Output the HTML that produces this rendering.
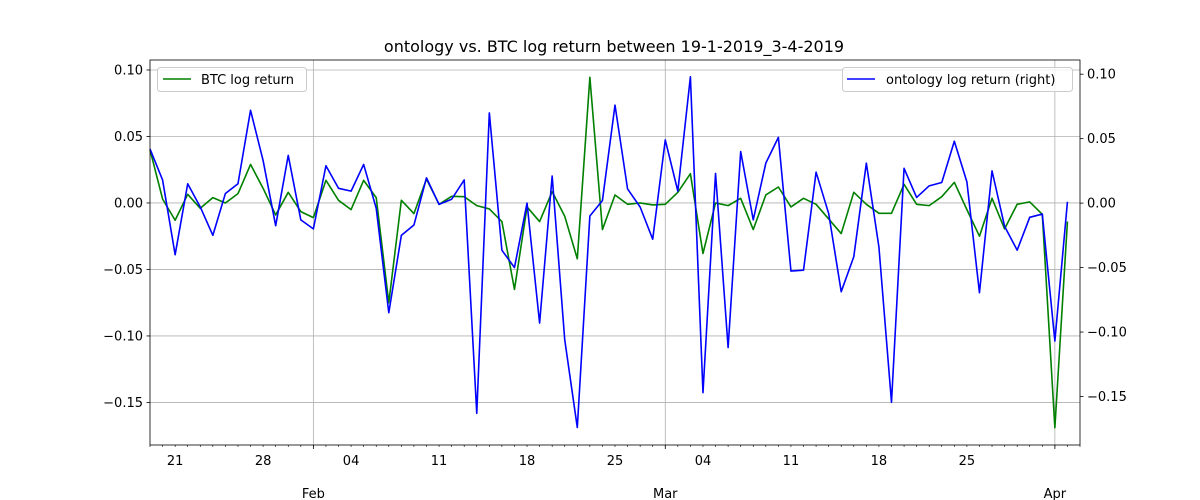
<!DOCTYPE html>
<html><head><meta charset="utf-8"><style>
body{margin:0;background:#fff;}
svg{display:block;font-family:"DejaVu Sans","Liberation Sans",sans-serif;}
</style></head><body>
<svg id="chart" width="1200" height="500" xmlns="http://www.w3.org/2000/svg">
<text x="614" y="52" font-size="16" text-anchor="middle">ontology vs. BTC log return between 19-1-2019_3-4-2019</text>
<g id="grid"></g><g id="series"></g><g id="axes"></g>
</svg>
<script>
const btcValues = [0.040,0.003,-0.013,0.0065,-0.004,0.004,0.000,0.007,0.029,0.011,-0.009,0.008,-0.0065,-0.011,0.017,0.002,-0.005,0.017,0.004,-0.075,0.002,-0.008,0.018,-0.001,0.005,0.0047,-0.002,-0.0045,-0.014,-0.065,-0.003,-0.014,0.0085,-0.010,-0.042,0.0945,-0.020,0.006,-0.001,0.000,-0.0015,-0.001,0.008,0.022,-0.038,0.000,-0.002,0.0035,-0.020,0.006,0.012,-0.003,0.0035,-0.001,-0.012,-0.023,0.008,-0.001,-0.0078,-0.0078,0.014,-0.001,-0.002,0.0047,0.0155,-0.005,-0.025,0.0035,-0.0195,-0.001,0.0008,-0.0085,-0.169,-0.014];
const ontValues = [0.042,0.018,-0.040,0.015,-0.003,-0.025,0.0075,0.015,0.072,0.033,-0.0175,0.037,-0.013,-0.020,0.029,0.0115,0.0093,0.030,-0.004,-0.085,-0.025,-0.017,0.0196,-0.001,0.003,0.018,-0.163,0.070,-0.0365,-0.050,0.000,-0.093,0.021,-0.106,-0.174,-0.010,0.002,0.076,0.011,-0.003,-0.028,0.049,0.0093,0.098,-0.147,0.023,-0.112,0.040,-0.013,0.031,0.051,-0.0527,-0.052,0.024,-0.008,-0.0687,-0.0416,0.031,-0.034,-0.1545,0.027,0.0044,0.0134,0.016,0.048,0.0165,-0.0695,0.025,-0.018,-0.0365,-0.011,-0.0085,-0.107,0.001];
const leftTicks = [0.10,0.05,0.00,-0.05,-0.10,-0.15];
const rightTicks = [0.10,0.05,0.00,-0.05,-0.10,-0.15];
const dayLabels = [[2,"21"],[9,"28"],[16,"04"],[23,"11"],[30,"18"],[37,"25"],[44,"04"],[51,"11"],[58,"18"],[65,"25"]];
const monthLabels = [[13,"Feb"],[41,"Mar"],[72,"Apr"]];
const NS="http://www.w3.org/2000/svg";
const X0=150,X1=1080,Y0=60,Y1=445,ndays=74;
const xs=i=>X0+(X1-X0)*i/ndays;
const yL=v=>Y0+(Y1-Y0)*(0.1075-v)/(0.1075+0.182);
const yR=v=>Y0+(Y1-Y0)*(0.111-v)/(0.111+0.1876);
function mk(tag,attrs,parent,text){const e=document.createElementNS(NS,tag);for(const k in attrs)e.setAttribute(k,attrs[k]);if(text!==undefined)e.textContent=text;parent.appendChild(e);return e;}
const grid=document.getElementById('grid'),series=document.getElementById('series'),axes=document.getElementById('axes');
leftTicks.forEach(v=>{const y=yL(v);
 const g=mk('line',{x1:X0,x2:X1,y1:y,y2:y,stroke:'#b0b0b0','stroke-width':0.8},grid);
 
 
 mk('line',{x1:X0-3.5,x2:X0,y1:y,y2:y,stroke:'#000','stroke-width':0.8},axes);
 const t=mk('text',{x:X0-7,y:y+4.5,'font-size':13,'text-anchor':'end'},axes,v.toFixed(2).replace('-','\u2212'));
 
 });
rightTicks.forEach(v=>{const y=yR(v);
 mk('line',{x1:X1,x2:X1+3.5,y1:y,y2:y,stroke:'#000','stroke-width':0.8},axes);
 const t=mk('text',{x:X1+7,y:y+4.5,'font-size':13},axes,v.toFixed(2).replace('-','\u2212'));
 
 });
for(let i=0;i<=ndays;i++){mk('line',{x1:xs(i),x2:xs(i),y1:Y1,y2:Y1+2,stroke:'#000','stroke-width':0.6},axes);}
monthLabels.forEach(([d,l])=>{const x=xs(d);
 const g=mk('line',{x1:x,x2:x,y1:Y0,y2:Y1,stroke:'#b0b0b0','stroke-width':0.8},grid);
 
 
 mk('line',{x1:x,x2:x,y1:Y1,y2:Y1+4,stroke:'#000','stroke-width':0.8},axes);
 const t=mk('text',{x:x,y:498,'font-size':13,'text-anchor':'middle'},axes,l);
 
 });
dayLabels.forEach(([d,l])=>{const t=mk('text',{x:xs(d),y:465,'font-size':13,'text-anchor':'middle'},axes,l);
 
 });
const fr=mk('rect',{x:X0,y:Y0,width:X1-X0,height:Y1-Y0,fill:'none',stroke:'#000','stroke-width':0.8},axes);


const gl=mk('polyline',{points:btcValues.map((v,i)=>xs(i)+','+yL(v)).join(' '),fill:'none',stroke:'green','stroke-width':1.6,'stroke-linejoin':'round'},series);


const bl=mk('polyline',{points:ontValues.map((v,i)=>xs(i)+','+yR(v)).join(' '),fill:'none',stroke:'blue','stroke-width':1.6,'stroke-linejoin':'round'},series);


// legends
const lg1=mk('g',{},axes);


mk('rect',{x:157.5,y:67.5,width:149,height:24,rx:3,fill:'#fff','fill-opacity':0.8,stroke:'#ccc'},lg1);
mk('line',{x1:163,x2:191,y1:79,y2:79,stroke:'green','stroke-width':1.6},lg1);
mk('text',{x:201,y:84,'font-size':13},lg1,'BTC log return');
const lg2=mk('g',{},axes);


mk('rect',{x:842.5,y:67.5,width:230,height:24,rx:3,fill:'#fff','fill-opacity':0.8,stroke:'#ccc'},lg2);
mk('line',{x1:847,x2:875,y1:79,y2:79,stroke:'blue','stroke-width':1.6},lg2);
mk('text',{x:886,y:84,'font-size':13},lg2,'ontology log return (right)');
</script>
</body></html>
